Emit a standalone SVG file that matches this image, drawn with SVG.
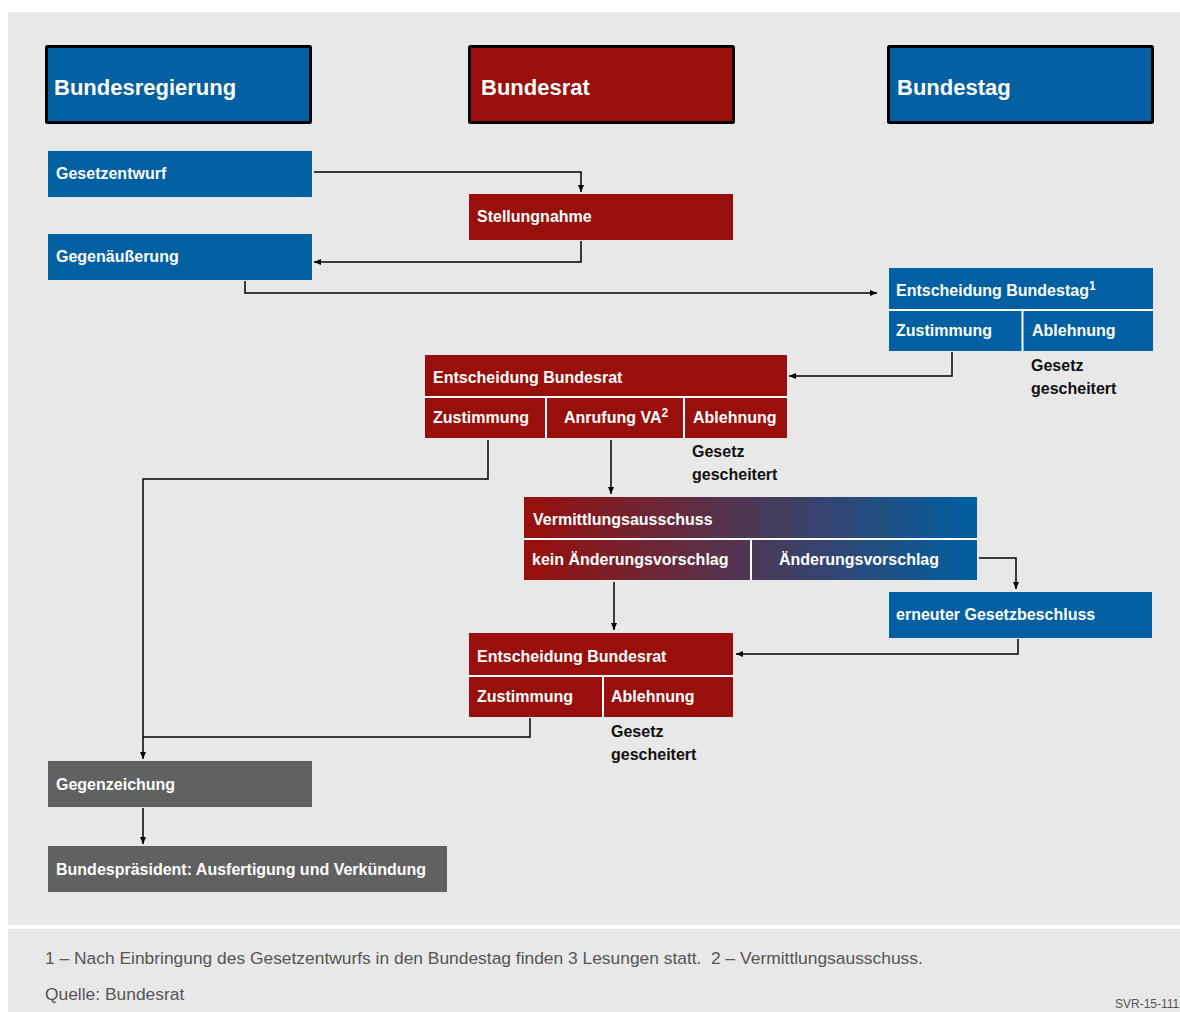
<svg xmlns="http://www.w3.org/2000/svg" width="1180" height="1012" viewBox="0 0 1180 1012">
<style>
.bg{fill:#e8e8e8}
.blue{fill:#0060a1}
.red{fill:#990f0b}
.grey{fill:#616161}
.hdr{stroke:#000;stroke-width:3}
.div{stroke:#fff;stroke-width:2}
.ht{font-family:"Liberation Sans",Arial,sans-serif;font-weight:bold;font-size:22px;fill:#fff}
.nt{font-family:"Liberation Sans",Arial,sans-serif;font-weight:bold;font-size:16px;fill:#fff}
.bt{font-family:"Liberation Sans",Arial,sans-serif;font-weight:bold;font-size:16px;fill:#111}
.ft{font-family:"Liberation Sans",Arial,sans-serif;font-size:17.4px;fill:#555;white-space:pre}
.sv{font-family:"Liberation Sans",Arial,sans-serif;font-size:12px;fill:#555}
.con{fill:none;stroke:#000;stroke-width:1.5}
</style>
<defs>
<marker id="arr" markerUnits="userSpaceOnUse" markerWidth="8" markerHeight="8" refX="7" refY="3" orient="auto">
<path d="M0,0 L7,3 L0,6 z" fill="#000"/>
</marker>
<linearGradient id="grad" x1="524" y1="0" x2="977" y2="0" gradientUnits="userSpaceOnUse">
<stop offset="0" stop-color="#990f0b"/>
<stop offset="1" stop-color="#0060a1"/>
</linearGradient>
</defs>
<rect x="8" y="12" width="1172" height="913" class="bg"/>
<rect x="8" y="929" width="1172" height="83" class="bg"/>

<g id="hdr-bundesregierung">
<rect x="46.5" y="46.5" width="264" height="76" rx="1" class="blue hdr"/>
<text x="54" y="95" class="ht">Bundesregierung</text>
</g>
<g id="hdr-bundesrat">
<rect x="469.5" y="46.5" width="264" height="76" rx="1" class="red hdr"/>
<text x="481" y="95" class="ht">Bundesrat</text>
</g>
<g id="hdr-bundestag">
<rect x="888.5" y="46.5" width="264" height="76" rx="1" class="blue hdr"/>
<text x="897" y="95" class="ht">Bundestag</text>
</g>

<g id="gesetzentwurf">
<rect x="48" y="151" width="264" height="46" class="blue"/>
<text x="56" y="179" class="nt">Gesetzentwurf</text>
</g>
<g id="stellungnahme">
<rect x="469" y="194" width="264" height="46" class="red"/>
<text x="477" y="222" class="nt">Stellungnahme</text>
</g>
<g id="gegenaeusserung">
<rect x="48" y="234" width="264" height="46" class="blue"/>
<text x="56" y="262" class="nt">Gegenäußerung</text>
</g>

<g id="entscheidung-bundestag">
<rect x="889" y="268" width="264" height="83" class="blue"/>
<line x1="889" y1="310" x2="1153" y2="310" class="div"/>
<line x1="1022.5" y1="310" x2="1022.5" y2="351" class="div"/>
<text x="896" y="296" class="nt">Entscheidung Bundestag<tspan font-size="12" dy="-6">1</tspan></text>
<text x="896" y="336" class="nt">Zustimmung</text>
<text x="1032" y="336" class="nt">Ablehnung</text>
<text x="1031" y="371" class="bt">Gesetz</text>
<text x="1031" y="394" class="bt">gescheitert</text>
</g>

<g id="entscheidung-bundesrat-1">
<rect x="425" y="355" width="362" height="83" class="red"/>
<line x1="425" y1="397" x2="787" y2="397" class="div"/>
<line x1="546" y1="397" x2="546" y2="438" class="div"/>
<line x1="684" y1="397" x2="684" y2="438" class="div"/>
<text x="433" y="383" class="nt">Entscheidung Bundesrat</text>
<text x="433" y="423" class="nt">Zustimmung</text>
<text x="564" y="423" class="nt">Anrufung VA<tspan font-size="12" dy="-6">2</tspan></text>
<text x="693" y="423" class="nt">Ablehnung</text>
<text x="692" y="457" class="bt">Gesetz</text>
<text x="692" y="480" class="bt">gescheitert</text>
</g>

<g id="vermittlungsausschuss">
<rect x="524" y="497" width="453" height="83" fill="url(#grad)"/>
<line x1="524" y1="539" x2="977" y2="539" class="div"/>
<line x1="751" y1="539" x2="751" y2="580" class="div"/>
<text x="533" y="525" class="nt">Vermittlungsausschuss</text>
<text x="532" y="565" class="nt">kein Änderungsvorschlag</text>
<text x="779" y="565" class="nt">Änderungsvorschlag</text>
</g>

<g id="erneuter-gesetzbeschluss">
<rect x="889" y="592" width="263" height="46" class="blue"/>
<text x="896" y="620" class="nt">erneuter Gesetzbeschluss</text>
</g>

<g id="entscheidung-bundesrat-2">
<rect x="469" y="633" width="264" height="84" class="red"/>
<line x1="469" y1="676" x2="733" y2="676" class="div"/>
<line x1="603" y1="676" x2="603" y2="717" class="div"/>
<text x="477" y="662" class="nt">Entscheidung Bundesrat</text>
<text x="477" y="702" class="nt">Zustimmung</text>
<text x="611" y="702" class="nt">Ablehnung</text>
<text x="611" y="737" class="bt">Gesetz</text>
<text x="611" y="760" class="bt">gescheitert</text>
</g>

<g id="gegenzeichung">
<rect x="48" y="761" width="264" height="46" class="grey"/>
<text x="56" y="790" class="nt">Gegenzeichung</text>
</g>
<g id="bundespraesident">
<rect x="48" y="846" width="399" height="46" class="grey"/>
<text x="56" y="875" class="nt">Bundespräsident: Ausfertigung und Verkündung</text>
</g>

<g id="connectors">
<path d="M314,172 H581 V192" class="con" marker-end="url(#arr)"/>
<path d="M581,241 V262 H314" class="con" marker-end="url(#arr)"/>
<path d="M245,281 V293 H877" class="con" marker-end="url(#arr)"/>
<path d="M952,352 V376 H789" class="con" marker-end="url(#arr)"/>
<path d="M488,440 V479 H143 V759" class="con" marker-end="url(#arr)"/>
<path d="M611,440 V494" class="con" marker-end="url(#arr)"/>
<path d="M614,582 V630" class="con" marker-end="url(#arr)"/>
<path d="M979,558 H1016 V589" class="con" marker-end="url(#arr)"/>
<path d="M1018,639 V654 H736" class="con" marker-end="url(#arr)"/>
<path d="M530,718 V737 H143" class="con"/>
<path d="M143,808 V844" class="con" marker-end="url(#arr)"/>
</g>

<g id="footer">
<text x="45" y="964" class="ft">1 – Nach Einbringung des Gesetzentwurfs in den Bundestag finden 3 Lesungen statt.  2 – Vermittlungsausschuss.</text>
<text x="45" y="1000" class="ft">Quelle: Bundesrat</text>
<text x="1115" y="1008" class="sv">SVR-15-111</text>
</g>
</svg>
